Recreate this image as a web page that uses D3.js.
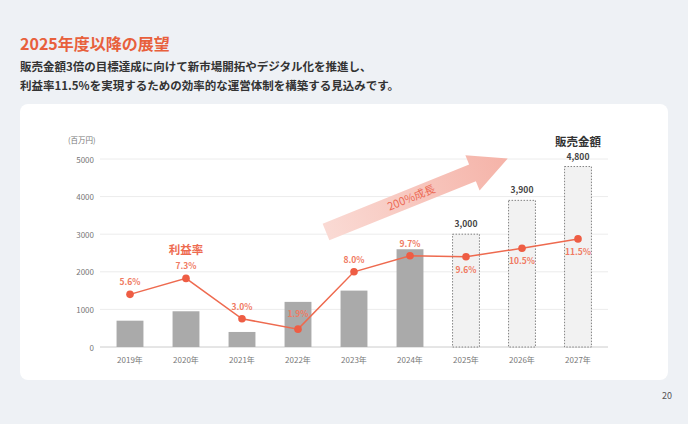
<!DOCTYPE html><html><head><meta charset="utf-8"><script src="https://cdn.jsdelivr.net/npm/d3@7"></script>
<style>body{margin:0;background:#eef1f5;font-family:"Noto Sans CJK JP","Noto Sans",sans-serif}</style></head><body><svg id="c" width="688" height="424"></svg>
<script>
const years=["2019年","2020年","2021年","2022年","2023年","2024年","2025年","2026年","2027年"];
const sales=[700,950,400,1200,1500,2600,3000,3900,4800];
const forecast=[false,false,false,false,false,false,true,true,true];
const margin=[5.6,7.3,3.0,1.9,8.0,9.7,9.6,10.5,11.5];
const yTicks=[0,1000,2000,3000,4000,5000];
const svg=d3.select("#c");
svg.append("rect").attr("width",688).attr("height",424).attr("fill","#eef1f5");
svg.append("text").attr("x",20).attr("y",50).attr("fill","#e8603c").attr("font-size",16).attr("font-weight",700).text("2025年度以降の展望");
svg.append("text").attr("x",20).attr("y",71).attr("fill","#333").attr("font-size",11.5).attr("font-weight",700).text("販売金額3倍の目標達成に向けて新市場開拓やデジタル化を推進し、");
svg.append("text").attr("x",20).attr("y",90).attr("fill","#333").attr("font-size",11.5).attr("font-weight",700).text("利益率11.5%を実現するための効率的な運営体制を構築する見込みです。");
svg.append("rect").attr("x",20).attr("y",104).attr("width",648).attr("height",276).attr("rx",8).attr("fill","#fff");
svg.append("text").attr("x",672).attr("y",399).attr("text-anchor","end").attr("font-size",9).attr("fill","#555").text("20");
const x=d3.scaleBand().domain(years).range([102,606]).paddingInner(0.52).paddingOuter(0.26);
const y=d3.scaleLinear().domain([0,5000]).range([347,159]);
const y2=d3.scaleLinear().domain([0,20]).range([347,159]);
const g=svg.append("g");
yTicks.forEach(t=>{g.append("line").attr("x1",100).attr("x2",608).attr("y1",y(t)).attr("y2",y(t)).attr("stroke",t?"#ececec":"#ccc");
g.append("text").attr("x",94).attr("y",y(t)+3.5).attr("text-anchor","end").attr("font-size",8).attr("fill","#777").text(t);});
g.append("text").attr("x",68).attr("y",143).attr("font-size",7.5).attr("fill","#777").text("(百万円)");
const ag=svg.append("defs").append("linearGradient").attr("id","ag");
ag.append("stop").attr("offset",0).attr("stop-color","#fadad4");ag.append("stop").attr("offset",1).attr("stop-color","#f5b3a8");
const arr=svg.append("g").attr("transform","translate(326,232) rotate(-22)");
arr.append("path").attr("d","M0,-9 L158,-9 L158,-19 L196,0 L158,19 L158,9 L0,9 Z").attr("fill","url(#ag)");
arr.append("text").attr("x",92).attr("y",4).attr("text-anchor","middle").attr("font-size",11).attr("fill","#ec6a55").text("200%成長");
years.forEach((yr,i)=>{
 const b=svg.append("rect").attr("x",x(yr)).attr("y",y(sales[i])).attr("width",x.bandwidth()).attr("height",y(0)-y(sales[i]));
 if(forecast[i]) b.attr("fill","#f2f2f2").attr("stroke","#666").attr("stroke-dasharray","1.5,1.5").attr("stroke-width",0.8);
 else b.attr("fill","#aaaaaa");
 if(forecast[i]) svg.append("text").attr("x",x(yr)+x.bandwidth()/2).attr("y",y(sales[i])-7).attr("text-anchor","middle").attr("font-size",8.5).attr("font-weight",700).attr("fill","#444").text(d3.format(",")(sales[i]));
 svg.append("text").attr("x",x(yr)+x.bandwidth()/2).attr("y",363).attr("text-anchor","middle").attr("font-size",8).attr("fill","#777").text(yr);
});
svg.append("text").attr("x",x("2027年")+x.bandwidth()/2).attr("y",146).attr("text-anchor","middle").attr("font-size",11.5).attr("font-weight",700).attr("fill","#333").text("販売金額");
const cx=d=>x(d)+x.bandwidth()/2;
svg.append("path").datum(margin).attr("fill","none").attr("stroke","#ee6a4f").attr("stroke-width",1.5)
 .attr("d",d3.line().x((d,i)=>cx(years[i])).y(d=>y2(d)));
const below=[false,false,false,false,false,false,true,true,true];
margin.forEach((m,i)=>{
 svg.append("circle").attr("cx",cx(years[i])).attr("cy",y2(m)).attr("r",3.8).attr("fill","#ee5d44");
 const ly=i===3?y2(m)-12:(below[i]?y2(m)+16:y2(m)-9);
 svg.append("text").attr("x",cx(years[i])).attr("y",ly).attr("text-anchor","middle").attr("font-size",8.5).attr("font-weight",700).attr("fill","#f07a62").text(m.toFixed(1)+"%");
});
svg.append("text").attr("x",186).attr("y",254).attr("text-anchor","middle").attr("font-size",11.5).attr("font-weight",700).attr("fill","#ee6a4f").text("利益率");
</script></body></html>
